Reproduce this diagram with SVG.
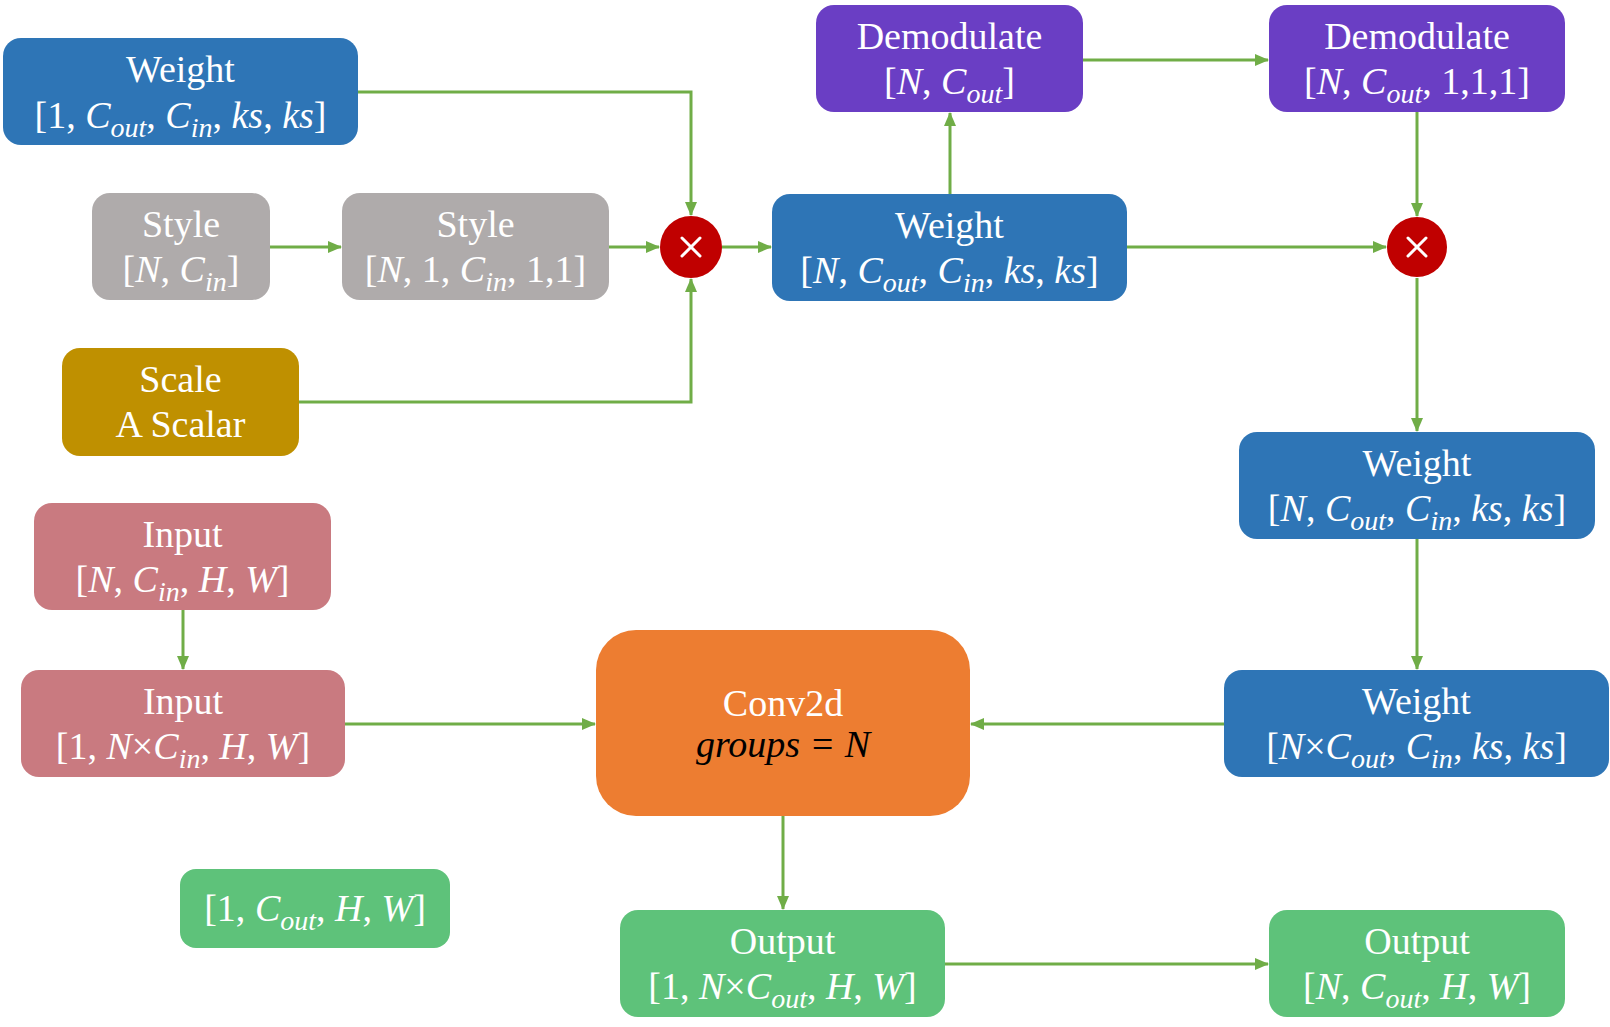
<svg xmlns="http://www.w3.org/2000/svg" width="1610" height="1027" viewBox="0 0 1610 1027">
<style>
.t{font-family:"Liberation Serif",serif;font-size:38px;fill:#fff;text-anchor:middle}
.i{font-style:italic}
.s{font-style:italic;font-size:28px}
.c{fill:none;stroke:#70AD47;stroke-width:3}
.blue{fill:#2E75B6}.gray{fill:#AFABAB}.gold{fill:#BF9000}.purp{fill:#6A3EC4}.pink{fill:#C97A80}.grn{fill:#5EC27A}.org{fill:#ED7D31}
.x{stroke:#fff;stroke-width:3;stroke-linecap:round}
</style>
<defs>
<marker id="a" markerUnits="userSpaceOnUse" markerWidth="14" markerHeight="12" refX="13" refY="6" orient="auto">
<path d="M0,0 L14,6 L0,12 Z" fill="#70AD47"/>
</marker>
</defs>
<rect width="1610" height="1027" fill="#fff"/>
<g id="connectors">
<path class="c" d="M358,92 H691 V215" marker-end="url(#a)"/>
<path class="c" d="M270,247 H341" marker-end="url(#a)"/>
<path class="c" d="M609,247 H659" marker-end="url(#a)"/>
<path class="c" d="M299,402 H691 V279" marker-end="url(#a)"/>
<path class="c" d="M722,247 H771" marker-end="url(#a)"/>
<path class="c" d="M950,194 V113" marker-end="url(#a)"/>
<path class="c" d="M1083,60 H1268" marker-end="url(#a)"/>
<path class="c" d="M1417,112 V216" marker-end="url(#a)"/>
<path class="c" d="M1127,247 H1386" marker-end="url(#a)"/>
<path class="c" d="M1417,278 V431" marker-end="url(#a)"/>
<path class="c" d="M1417,539 V669" marker-end="url(#a)"/>
<path class="c" d="M1224,724 H971" marker-end="url(#a)"/>
<path class="c" d="M183,610 V669" marker-end="url(#a)"/>
<path class="c" d="M345,724 H595" marker-end="url(#a)"/>
<path class="c" d="M783,816 V909" marker-end="url(#a)"/>
<path class="c" d="M945,964 H1268" marker-end="url(#a)"/>
</g>
<g id="weight1">
<rect class="blue" x="3" y="38" width="355" height="107" rx="18"/>
<text class="t" x="180.5" y="82">Weight</text>
<text class="t" x="180.5" y="128">[1, <tspan class="i">C</tspan><tspan class="s" dy="9">out</tspan><tspan dy="-9">, </tspan><tspan class="i">C</tspan><tspan class="s" dy="9">in</tspan><tspan dy="-9">, </tspan><tspan class="i">ks</tspan>, <tspan class="i">ks</tspan>]</text>
</g>
<g id="style1">
<rect class="gray" x="92" y="193" width="178" height="107" rx="18"/>
<text class="t" x="181" y="237">Style</text>
<text class="t" x="181" y="282">[<tspan class="i">N</tspan>, <tspan class="i">C</tspan><tspan class="s" dy="9">in</tspan><tspan dy="-9">]</tspan></text>
</g>
<g id="style2">
<rect class="gray" x="342" y="193" width="267" height="107" rx="18"/>
<text class="t" x="475.5" y="237">Style</text>
<text class="t" x="475.5" y="282">[<tspan class="i">N</tspan>, 1, <tspan class="i">C</tspan><tspan class="s" dy="9">in</tspan><tspan dy="-9">, 1,1]</tspan></text>
</g>
<g id="scale">
<rect class="gold" x="62" y="348" width="237" height="108" rx="18"/>
<text class="t" x="180.5" y="392">Scale</text>
<text class="t" x="180.5" y="437">A Scalar</text>
</g>
<g id="mul1">
<circle cx="691" cy="247" r="31" fill="#C00000"/>
<line class="x" x1="682" y1="238" x2="700" y2="256"/>
<line class="x" x1="700" y1="238" x2="682" y2="256"/>
</g>
<g id="weight2">
<rect class="blue" x="772" y="194" width="355" height="107" rx="18"/>
<text class="t" x="949.5" y="238">Weight</text>
<text class="t" x="949.5" y="283">[<tspan class="i">N</tspan>, <tspan class="i">C</tspan><tspan class="s" dy="9">out</tspan><tspan dy="-9">, </tspan><tspan class="i">C</tspan><tspan class="s" dy="9">in</tspan><tspan dy="-9">, </tspan><tspan class="i">ks</tspan>, <tspan class="i">ks</tspan>]</text>
</g>
<g id="demod1">
<rect class="purp" x="816" y="5" width="267" height="107" rx="18"/>
<text class="t" x="949.5" y="49">Demodulate</text>
<text class="t" x="949.5" y="94">[<tspan class="i">N</tspan>, <tspan class="i">C</tspan><tspan class="s" dy="9">out</tspan><tspan dy="-9">]</tspan></text>
</g>
<g id="demod2">
<rect class="purp" x="1269" y="5" width="296" height="107" rx="18"/>
<text class="t" x="1417" y="49">Demodulate</text>
<text class="t" x="1417" y="94">[<tspan class="i">N</tspan>, <tspan class="i">C</tspan><tspan class="s" dy="9">out</tspan><tspan dy="-9">, 1,1,1]</tspan></text>
</g>
<g id="mul2">
<circle cx="1417" cy="247" r="30" fill="#C00000"/>
<line class="x" x1="1408" y1="238" x2="1426" y2="256"/>
<line class="x" x1="1426" y1="238" x2="1408" y2="256"/>
</g>
<g id="weight3">
<rect class="blue" x="1239" y="432" width="356" height="107" rx="18"/>
<text class="t" x="1417" y="476">Weight</text>
<text class="t" x="1417" y="521">[<tspan class="i">N</tspan>, <tspan class="i">C</tspan><tspan class="s" dy="9">out</tspan><tspan dy="-9">, </tspan><tspan class="i">C</tspan><tspan class="s" dy="9">in</tspan><tspan dy="-9">, </tspan><tspan class="i">ks</tspan>, <tspan class="i">ks</tspan>]</text>
</g>
<g id="weight4">
<rect class="blue" x="1224" y="670" width="385" height="107" rx="18"/>
<text class="t" x="1416.5" y="714">Weight</text>
<text class="t" x="1416.5" y="759">[<tspan class="i">N</tspan>×<tspan class="i">C</tspan><tspan class="s" dy="9">out</tspan><tspan dy="-9">, </tspan><tspan class="i">C</tspan><tspan class="s" dy="9">in</tspan><tspan dy="-9">, </tspan><tspan class="i">ks</tspan>, <tspan class="i">ks</tspan>]</text>
</g>
<g id="conv2d">
<rect class="org" x="596" y="630" width="374" height="186" rx="40"/>
<text class="t" x="783" y="716">Conv2d</text>
<text class="t i" x="783" y="757" style="fill:#000">groups = N</text>
</g>
<g id="input1">
<rect class="pink" x="34" y="503" width="297" height="107" rx="18"/>
<text class="t" x="182.5" y="547">Input</text>
<text class="t" x="182.5" y="592">[<tspan class="i">N</tspan>, <tspan class="i">C</tspan><tspan class="s" dy="9">in</tspan><tspan dy="-9">, </tspan><tspan class="i">H</tspan>, <tspan class="i">W</tspan>]</text>
</g>
<g id="input2">
<rect class="pink" x="21" y="670" width="324" height="107" rx="18"/>
<text class="t" x="183" y="714">Input</text>
<text class="t" x="183" y="759">[1, <tspan class="i">N</tspan>×<tspan class="i">C</tspan><tspan class="s" dy="9">in</tspan><tspan dy="-9">, </tspan><tspan class="i">H</tspan>, <tspan class="i">W</tspan>]</text>
</g>
<g id="out0">
<rect class="grn" x="180" y="869" width="270" height="79" rx="16"/>
<text class="t" x="315" y="921">[1, <tspan class="i">C</tspan><tspan class="s" dy="9">out</tspan><tspan dy="-9">, </tspan><tspan class="i">H</tspan>, <tspan class="i">W</tspan>]</text>
</g>
<g id="output1">
<rect class="grn" x="620" y="910" width="325" height="107" rx="18"/>
<text class="t" x="782.5" y="954">Output</text>
<text class="t" x="782.5" y="999">[1, <tspan class="i">N</tspan>×<tspan class="i">C</tspan><tspan class="s" dy="9">out</tspan><tspan dy="-9">, </tspan><tspan class="i">H</tspan>, <tspan class="i">W</tspan>]</text>
</g>
<g id="output2">
<rect class="grn" x="1269" y="910" width="296" height="107" rx="18"/>
<text class="t" x="1417" y="954">Output</text>
<text class="t" x="1417" y="999">[<tspan class="i">N</tspan>, <tspan class="i">C</tspan><tspan class="s" dy="9">out</tspan><tspan dy="-9">, </tspan><tspan class="i">H</tspan>, <tspan class="i">W</tspan>]</text>
</g>
</svg>
